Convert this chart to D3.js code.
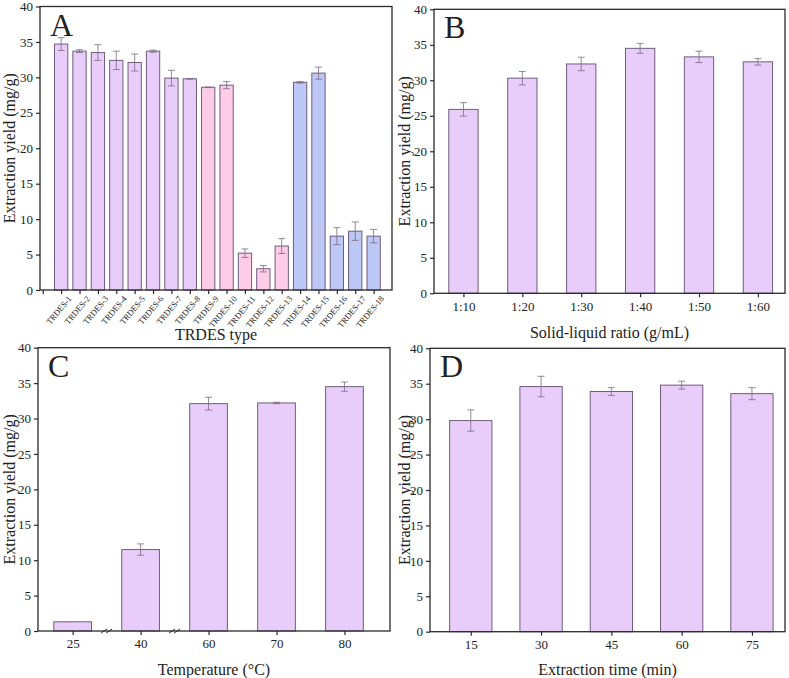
<!DOCTYPE html>
<html>
<head>
<meta charset="utf-8">
<script src="https://cdn.jsdelivr.net/npm/d3@7"></script>
<style>
  body { margin: 0; background: #fff; }
  text { font-family: "Liberation Serif", "Times New Roman", serif; fill: #222; }
</style>
</head>
<body>
<div id="chart"></div>
<script>
// panel A: TRDES type
const typeLabels = ['TRDES-1', 'TRDES-2', 'TRDES-3', 'TRDES-4', 'TRDES-5', 'TRDES-6', 'TRDES-7', 'TRDES-8', 'TRDES-9',
  'TRDES-10', 'TRDES-11', 'TRDES-12', 'TRDES-13', 'TRDES-14', 'TRDES-15', 'TRDES-16', 'TRDES-17', 'TRDES-18'];
const typeValues = [34.7, 33.7, 33.5, 32.4, 32.1, 33.7, 29.9, 29.8, 28.6, 28.9, 5.2, 3.0, 6.2, 29.3, 30.6, 7.6, 8.3, 7.6];
const typeErrors = [0.9, 0.2, 1.1, 1.3, 1.2, 0.15, 1.1, 0.05, 0.05, 0.5, 0.6, 0.45, 1.05, 0.1, 0.85, 1.2, 1.3, 0.95];
const typeGroups = ['a', 'a', 'a', 'a', 'a', 'a', 'a', 'a', 'b', 'b', 'b', 'b', 'b', 'c', 'c', 'c', 'c', 'c'];

// panel B: solid-liquid ratio
const ratioLabels = ['1:10', '1:20', '1:30', '1:40', '1:50', '1:60'];
const ratioValues = [25.9, 30.3, 32.3, 34.5, 33.3, 32.6];
const ratioErrors = [0.95, 0.95, 0.95, 0.7, 0.8, 0.45];

// panel C: temperature
const tempLabels = ['25', '40', '60', '70', '80'];
const tempValues = [1.3, 11.5, 32.1, 32.2, 34.5];
const tempErrors = [0, 0.8, 0.9, 0.1, 0.65];

// panel D: extraction time
const timeLabels = ['15', '30', '45', '60', '75'];
const timeValues = [29.8, 34.6, 33.9, 34.8, 33.6];
const timeErrors = [1.5, 1.45, 0.55, 0.55, 0.85];

const yTicks = [0, 5, 10, 15, 20, 25, 30, 35, 40];

const groupColor = { a: '#e8cdfa', b: '#ffcce8', c: '#bdc8f6' };
const lavender = '#e8cdfa';
const barStroke = '#6f5d7c';
const errColor = '#7b6b84';
const axisColor = '#2a2a2a';
const serif = '"Liberation Serif", "Times New Roman", serif';

const svg = d3.select('#chart').append('svg').attr('width', 789).attr('height', 678);

const panels = [
  {
    letter: 'A', left: 40, right: 392, top: 6.5, bottom: 290,
    domain: [-0.15, 19], pos: typeLabels.map((d, i) => i + 1), extraTicks: [0],
    labels: typeLabels, values: typeValues, errors: typeErrors,
    colors: typeGroups.map((g) => groupColor[g]), barW: 13.3, rotate: true,
    xTitle: 'TRDES type', xTitleY: 340, yTitleX: 15,
  },
  {
    letter: 'B', left: 434, right: 785, top: 9.3, bottom: 293.3,
    domain: [-0.5, 5.46], pos: ratioLabels.map((d, i) => i), extraTicks: [],
    labels: ratioLabels, values: ratioValues, errors: ratioErrors,
    colors: ratioLabels.map(() => lavender), barW: 29.3,
    xTitle: 'Solid-liquid ratio (g/mL)', xTitleY: 338, yTitleX: 410,
  },
  {
    letter: 'C', left: 38, right: 390, top: 347.7, bottom: 631,
    domain: [-0.51, 4.67], pos: tempLabels.map((d, i) => i), extraTicks: [],
    labels: tempLabels, values: tempValues, errors: tempErrors,
    colors: tempLabels.map(() => lavender), barW: 37.7, breaks: [0.5, 1.5],
    xTitle: 'Temperature (\u00B0C)', xTitleY: 675, yTitleX: 15,
  },
  {
    letter: 'D', left: 430, right: 785, top: 348.3, bottom: 631.7,
    domain: [-0.58, 4.47], pos: timeLabels.map((d, i) => i), extraTicks: [],
    labels: timeLabels, values: timeValues, errors: timeErrors,
    colors: timeLabels.map(() => lavender), barW: 42.3,
    xTitle: 'Extraction time (min)', xTitleY: 675, yTitleX: 410,
  },
];

panels.forEach(drawPanel);

function drawPanel(p) {
  const g = svg.append('g');
  const x = d3.scaleLinear().domain(p.domain).range([p.left, p.right]);
  const y = d3.scaleLinear().domain([0, 40]).range([p.bottom, p.top]);

  // bars
  g.selectAll('rect.bar')
    .data(p.values)
    .enter()
    .append('rect')
    .attr('class', 'bar')
    .attr('x', (d, i) => x(p.pos[i]) - p.barW / 2)
    .attr('y', (d) => y(d))
    .attr('width', p.barW)
    .attr('height', (d) => y(0) - y(d))
    .attr('fill', (d, i) => p.colors[i])
    .attr('stroke', barStroke)
    .attr('stroke-width', 1);

  // error bars
  const eb = g.selectAll('g.err')
    .data(p.values.map((v, i) => ({ v, e: p.errors[i], i })).filter((d) => d.e > 0))
    .enter()
    .append('g')
    .attr('stroke', errColor)
    .attr('stroke-width', 0.8);
  eb.append('line')
    .attr('x1', (d) => x(p.pos[d.i])).attr('x2', (d) => x(p.pos[d.i]))
    .attr('y1', (d) => y(d.v - d.e)).attr('y2', (d) => y(d.v + d.e));
  eb.append('line')
    .attr('x1', (d) => x(p.pos[d.i]) - 3.5).attr('x2', (d) => x(p.pos[d.i]) + 3.5)
    .attr('y1', (d) => y(d.v + d.e)).attr('y2', (d) => y(d.v + d.e));
  eb.append('line')
    .attr('x1', (d) => x(p.pos[d.i]) - 3.5).attr('x2', (d) => x(p.pos[d.i]) + 3.5)
    .attr('y1', (d) => y(d.v - d.e)).attr('y2', (d) => y(d.v - d.e));

  // frame
  g.append('rect')
    .attr('x', p.left).attr('y', p.top)
    .attr('width', p.right - p.left).attr('height', p.bottom - p.top)
    .attr('fill', 'none').attr('stroke', axisColor).attr('stroke-width', 1.3);

  // y axis
  const yAxis = d3.axisLeft(y).tickValues(yTicks).tickSize(4).tickPadding(3);
  const ya = g.append('g').attr('transform', `translate(${p.left},0)`).call(yAxis)
    .attr('font-family', serif);
  ya.select('.domain').remove();
  ya.selectAll('line').attr('stroke', axisColor).attr('stroke-width', 1.2);
  ya.selectAll('text').attr('font-size', 13).attr('fill', '#222');

  // x axis
  const tickPos = p.extraTicks.concat(p.pos);
  const xAxis = d3.axisBottom(x).tickValues(tickPos).tickSize(4).tickPadding(4)
    .tickFormat((d) => {
      const k = p.pos.indexOf(d);
      return k >= 0 ? p.labels[k] : '';
    });
  const xa = g.append('g').attr('transform', `translate(0,${p.bottom})`).call(xAxis)
    .attr('font-family', serif);
  xa.select('.domain').remove();
  xa.selectAll('line').attr('stroke', axisColor).attr('stroke-width', 1.2);
  xa.selectAll('text').attr('font-size', 13).attr('fill', '#222');
  if (p.rotate) {
    xa.selectAll('text')
      .attr('font-size', 8.5)
      .attr('text-anchor', 'end')
      .attr('dy', '0.35em')
      .attr('transform', 'translate(2,2) rotate(-50)');
  }

  // axis break marks
  if (p.breaks) {
    p.breaks.forEach((b) => {
      const bx = x(b);
      [-2.5, 2.5].forEach((off) => {
        g.append('line')
          .attr('x1', bx + off - 3).attr('y1', p.bottom + 2)
          .attr('x2', bx + off + 3).attr('y2', p.bottom - 2)
          .attr('stroke', axisColor).attr('stroke-width', 1);
      });
    });
  }

  // titles
  g.append('text')
    .attr('x', (p.left + p.right) / 2)
    .attr('y', p.xTitleY)
    .attr('text-anchor', 'middle')
    .attr('font-size', 16)
    .text(p.xTitle);

  g.append('text')
    .attr('transform', `translate(${p.yTitleX},${(p.top + p.bottom) / 2}) rotate(-90)`)
    .attr('text-anchor', 'middle')
    .attr('font-size', 16)
    .text('Extraction yield (mg/g)');

  g.append('text')
    .attr('x', p.left + 10)
    .attr('y', p.top + 29)
    .attr('font-size', 32)
    .text(p.letter);
}
</script>
</body>
</html>
